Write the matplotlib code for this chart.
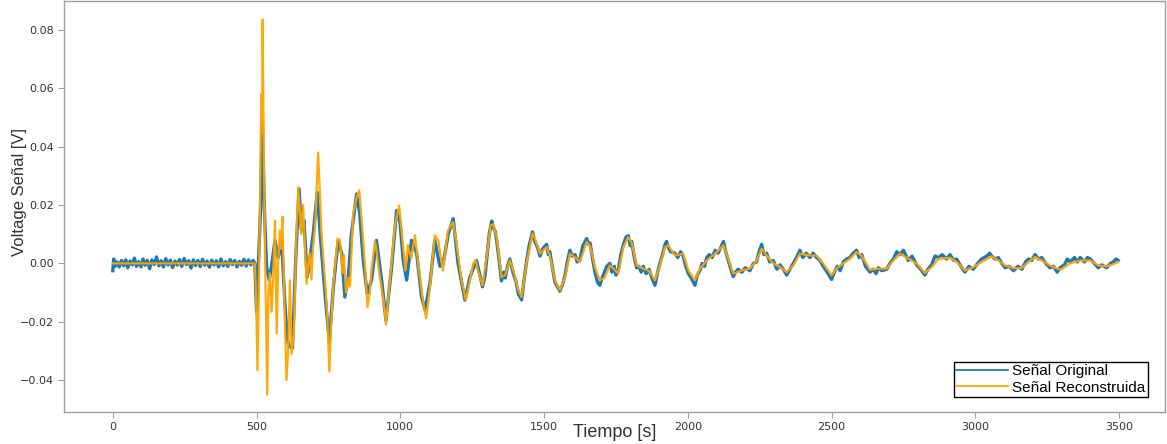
import matplotlib.pyplot as plt
import numpy as np

# señal reconstruida
t_rec = [0, 494, 498, 503, 508, 514, 517, 519, 521, 525,
         530, 537, 541, 546, 552, 558, 564, 570, 575, 581,
         585, 590, 596, 604, 610, 616, 622, 630, 637, 645,
         656, 662, 674, 680, 685, 691, 695, 705, 714, 720,
         726, 741, 747, 753, 760, 767, 782, 790, 799, 804,
         811, 819, 825, 836, 848, 857, 865, 877, 886, 894,
         900, 912, 918, 925, 946, 950, 958, 965, 981, 996,
         1010, 1018, 1026, 1038, 1051, 1062, 1080, 1090, 1101, 1120,
         1132, 1148, 1166, 1183, 1194, 1213, 1228, 1242, 1254, 1262,
         1270, 1286, 1302, 1314, 1323, 1335, 1352, 1365, 1381, 1393,
         1411, 1422, 1439, 1460, 1468, 1486, 1509, 1520, 1538, 1555,
         1573, 1590, 1608, 1625, 1648, 1660, 1677, 1694, 1710, 1729,
         1744, 1758, 1776, 1793, 1805, 1822, 1845, 1865, 1886, 1903,
         1921, 1932, 1955, 1984, 2002, 2025, 2042, 2066, 2095, 2124,
         2141, 2158, 2188, 2216, 2239, 2257, 2274, 2297, 2321, 2344,
         2367, 2390, 2425, 2448, 2471, 2500, 2520, 2541, 2564, 2587,
         2605, 2634, 2663, 2692, 2715, 2738, 2767, 2796, 2825, 2848,
         2872, 2912, 2935, 2964, 2993, 3022, 3057, 3080, 3104, 3133,
         3162, 3185, 3208, 3231, 3260, 3295, 3330, 3365, 3400, 3428,
         3457, 3480, 3497]
v_rec = [0.0, 0.0, -0.010, -0.0366, -0.010, 0.040, 0.058, 0.045, 0.0835, 0.040,
         0.000, -0.045, -0.010, -0.0034, -0.0166, -0.005, 0.0147, -0.024, 0.000, 0.0113,
         0.005, 0.016, -0.010, -0.040, -0.030, -0.0058, -0.031, -0.024, 0.005, 0.026,
         0.010, 0.020, -0.007, 0.000, 0.0034, -0.0055, 0.0035, 0.015, 0.038, 0.025,
         0.010, -0.010, -0.020, -0.037, -0.020, -0.007, 0.0085, 0.008, -0.0034, 0.003,
         -0.010, -0.005, -0.008, 0.017, 0.0225, 0.025, 0.0155, -0.0005, -0.015, -0.010,
         -0.002, 0.0075, 0.004, -0.002, -0.016, -0.021, -0.012, -0.0047, 0.013, 0.0198,
         0.0056, -0.0024, 0.0062, 0.0017, 0.0096, 0.0, -0.0137, -0.0188, -0.010, 0.0096,
         0.0079, -0.0024, 0.0113, 0.0141, 0.0079, -0.0058, -0.0126, -0.0058, 0.0, 0.001,
         -0.0024, -0.0075, 0.0034, 0.013, 0.0134, 0.009, -0.0047, -0.004, 0.001, -0.0024,
         -0.0092, -0.0115, 0.0, 0.0102, 0.0085, 0.0034, 0.0056, 0.0027, -0.0058, -0.0092,
         -0.0047, 0.0033, 0.0020, 0.0005, 0.0073, 0.006, -0.0013, -0.0058, -0.005, -0.0007,
         -0.002, -0.0035, 0.0056, 0.009, 0.007, -0.0007, -0.0018, -0.0025, -0.0058, -0.0007,
         0.0056, 0.0062, 0.0027, 0.0033, -0.0024, -0.0058, -0.0018, 0.001, 0.0033, 0.0062,
         0.0016, -0.0035, -0.0024, -0.0018, 0.001, 0.005, 0.0027, 0.0, -0.0013, -0.003,
         -0.0007, 0.0033, 0.0027, 0.0027, 0.0, -0.0041, -0.0015, 0.0, 0.0016, 0.0039,
         0.0025, -0.0022, -0.0018, -0.0018, 0.001, 0.0033, 0.0016, 0.0, -0.0033, -0.0013,
         0.0016, 0.0019, 0.0005, -0.0024, -0.0013, 0.0005, 0.0024, 0.001, -0.0007, -0.0016,
         -0.0016, 0.0005, 0.0022, 0.001, -0.0007, -0.0022, 0.0, 0.001, 0.001, -0.0007,
         -0.001, -0.0003, 0.0005]

# señal original
t_orig = [0, 3, 8, 15, 22, 30, 38, 45, 52, 60,
          68, 75, 82, 90, 98, 105, 112, 120, 128, 136,
          144, 152, 160, 168, 176, 184, 192, 200, 208, 216,
          224, 232, 240, 248, 256, 264, 272, 280, 288, 296,
          304, 312, 320, 328, 336, 344, 352, 360, 368, 376,
          384, 392, 400, 408, 416, 424, 432, 440, 448, 456,
          464, 472, 480, 488, 494, 500, 514, 520, 527, 535,
          544, 552, 564, 575, 587, 598, 607, 616, 625, 637,
          648, 656, 665, 676, 685, 697, 711, 723, 738, 753,
          767, 784, 796, 807, 819, 830, 848, 859, 871, 885,
          900, 917, 935, 950, 970, 987, 999, 1010, 1022, 1039,
          1057, 1074, 1086, 1103, 1120, 1138, 1149, 1167, 1184, 1201,
          1225, 1242, 1265, 1286, 1295, 1302, 1310, 1318, 1323, 1330,
          1335, 1345, 1352, 1360, 1365, 1373, 1381, 1387, 1393, 1402,
          1411, 1422, 1430, 1439, 1448, 1460, 1468, 1477, 1486, 1495,
          1509, 1515, 1520, 1530, 1538, 1547, 1555, 1565, 1573, 1582,
          1590, 1598, 1608, 1615, 1625, 1635, 1648, 1655, 1660, 1668,
          1677, 1686, 1694, 1702, 1710, 1718, 1729, 1736, 1744, 1750,
          1758, 1767, 1776, 1785, 1793, 1800, 1805, 1814, 1822, 1830,
          1838, 1845, 1855, 1865, 1875, 1886, 1895, 1903, 1912, 1921,
          1926, 1932, 1940, 1955, 1965, 1975, 1984, 1993, 2002, 2012,
          2025, 2033, 2042, 2050, 2058, 2066, 2075, 2085, 2095, 2105,
          2115, 2124, 2132, 2141, 2150, 2158, 2166, 2175, 2188, 2200,
          2216, 2228, 2239, 2248, 2257, 2265, 2274, 2285, 2297, 2310,
          2321, 2332, 2344, 2355, 2367, 2378, 2390, 2400, 2412, 2425,
          2436, 2448, 2460, 2471, 2485, 2500, 2510, 2520, 2530, 2541,
          2552, 2564, 2575, 2587, 2596, 2605, 2618, 2634, 2645, 2655,
          2663, 2675, 2692, 2703, 2715, 2727, 2738, 2750, 2767, 2780,
          2796, 2810, 2825, 2835, 2848, 2860, 2872, 2885, 2900, 2912,
          2925, 2935, 2950, 2964, 2978, 2993, 3008, 3022, 3040, 3050,
          3057, 3070, 3080, 3092, 3104, 3118, 3133, 3148, 3162, 3175,
          3185, 3196, 3208, 3220, 3231, 3245, 3260, 3272, 3285, 3295,
          3310, 3320, 3330, 3345, 3355, 3365, 3380, 3390, 3400, 3414,
          3428, 3440, 3457, 3470, 3480, 3490, 3497]
v_orig = [-0.0025, 0.0015, -0.001, 0.0005, -0.0012, 0.001, -0.0008, 0.0012, -0.0015, 0.0008,
          -0.0005, 0.0018, -0.001, 0.0006, -0.0012, 0.0015, -0.0006, 0.001, -0.0018, 0.0012,
          -0.0004, 0.0022, -0.0008, 0.0009, -0.0012, 0.0016, -0.0005, 0.0011, -0.0014, 0.0008,
          -0.0006, 0.0013, -0.001, 0.0017, -0.0004, 0.0009, -0.0016, 0.0012, -0.0007, 0.001,
          -0.0011, 0.0014, -0.0006, 0.0008, -0.0013, 0.0011, -0.0005, 0.0009, -0.0012, 0.0015,
          -0.0008, 0.0006, -0.001, 0.0013, -0.0004, 0.001, -0.0012, 0.0007, -0.0006, 0.0014,
          -0.0009, 0.0012, -0.0005, 0.001, 0.0, -0.0166, 0.019, 0.0483, 0.019, -0.0013,
          -0.0057, -0.001, 0.0079, 0.002, 0.0079, -0.0126, -0.0263, -0.0286, -0.029, 0.0034,
          0.0255, 0.0113, 0.0147, -0.0047, 0.0011, 0.0101, 0.0244, 0.0079, -0.0104, -0.0269,
          -0.0081, 0.0079, 0.0034, -0.0115, -0.0047, 0.0101, 0.0238, 0.0170, 0.0011, -0.0104,
          -0.0057, 0.0079, -0.0057, -0.0195, -0.0010, 0.0181, 0.0141, 0.0011, -0.0057, 0.0079,
          0.0034, -0.0115, -0.016, -0.0069, 0.0079, -0.001, -0.0001, 0.0101, 0.0153, -0.0001,
          -0.0126, -0.0047, 0.001, -0.0080, -0.004, 0.0030, 0.0105, 0.0145, 0.0125, 0.011,
          0.008, 0.000, -0.006, -0.003, -0.005, -0.001, 0.0015, -0.001, -0.0035, -0.006,
          -0.0105, -0.0125, -0.006, 0.0005, 0.006, 0.0108, 0.0075, 0.0055, 0.0025, 0.005,
          0.0065, 0.003, 0.004, -0.002, -0.0065, -0.008, -0.0095, -0.007, -0.004, 0.001,
          0.0045, 0.0025, 0.003, 0.0005, 0.0015, 0.006, 0.0085, 0.0065, 0.007, 0.002,
          -0.003, -0.0065, -0.0075, -0.005, -0.003, -0.001, 0.000, -0.003, -0.001, -0.004,
          -0.0025, 0.003, 0.0065, 0.009, 0.0095, 0.006, 0.0075, 0.002, -0.0015, -0.001,
          -0.003, -0.0010, -0.0035, -0.002, -0.005, -0.0075, -0.003, 0.000, 0.003, 0.0065,
          0.0075, 0.0055, 0.004, 0.0035, 0.002, 0.004, 0.0025, -0.001, -0.0035, -0.005,
          -0.0075, -0.004, -0.0025, 0.000, -0.001, 0.002, 0.003, 0.002, 0.0045, 0.0035,
          0.0055, 0.0075, 0.004, 0.001, -0.002, -0.0045, -0.003, -0.002, -0.0030, -0.0015,
          -0.0025, 0.000, 0.0005, 0.004, 0.0065, 0.003, 0.0035, 0.0005, 0.0010, -0.002,
          -0.0005, -0.002, -0.004, -0.002, 0.0000, 0.002, 0.0045, 0.002, 0.0035, 0.0020,
          0.0035, 0.0020, 0.001, -0.0010, -0.003, -0.0055, -0.003, -0.001, -0.0025, 0.0005,
          0.0015, 0.002, 0.0035, 0.0045, 0.002, 0.003, -0.001, -0.003, -0.002, -0.0035,
          -0.0015, -0.0025, -0.002, 0.000, 0.0015, 0.004, 0.0030, 0.0045, 0.0010, 0.0025,
          -0.0005, -0.002, -0.004, -0.002, -0.0005, 0.0025, 0.002, 0.003, 0.0015, 0.003,
          0.001, 0.0015, -0.001, -0.003, -0.001, -0.002, 0.000, 0.0015, 0.0025, 0.0035,
          0.0025, 0.0015, 0.0020, 0.000, -0.0015, -0.001, -0.0025, -0.001, -0.0020, 0.0005,
          0.0015, 0.001, 0.003, 0.0015, 0.0020, 0.000, -0.0015, -0.001, -0.003, -0.0015,
          -0.0005, 0.0015, 0.0005, 0.002, 0.0005, 0.0020, 0.0005, 0.002, 0.0015, 0.000,
          -0.0015, -0.0005, -0.0015, 0.0, 0.0005, 0.0015, 0.0010]

assert len(t_rec) == len(v_rec)
assert len(t_orig) == len(v_orig)

fig = plt.figure(figsize=(11.67, 4.44), dpi=100)
ax = fig.add_axes([0.0548, 0.072, 0.9435, 0.926])

ax.plot(t_orig, v_orig, color='#1f77b4', lw=2.4, label='Señal Original')
ax.plot(t_rec, v_rec, color='orange', lw=1.6, alpha=0.95, label='Señal Reconstruida')

ax.set_xlim(-170, 3660)
ax.set_ylim(-0.0509, 0.0899)
ax.set_yticks(np.arange(-0.04, 0.081, 0.02))
ax.set_xticks(np.arange(0, 3501, 500))

for s in ax.spines.values():
    s.set_color('#a0a0a0')
    s.set_linewidth(1.0)
ax.tick_params(colors='#a0a0a0', labelcolor='#333333', labelsize=8, length=4)

ax.set_xlabel('Tiempo [s]', fontsize=13, family='Liberation Sans', color='#333333')
ax.xaxis.set_label_coords(0.5, -0.028)
ax.set_ylabel('Voltage Señal [V]', fontsize=12, family='Liberation Sans', color='#333333')
ax.yaxis.set_label_coords(-0.034, 0.535)

leg = ax.legend(loc='lower right', prop={'family': 'Liberation Sans', 'size': 11},
                fancybox=False, framealpha=1, edgecolor='black', borderpad=0.15,
                labelspacing=0.15, handlelength=3.4, handletextpad=0.3,
                borderaxespad=0, bbox_to_anchor=(0.9845, 0.0365))
leg.get_frame().set_linewidth(1.0)
for line in leg.get_lines():
    line.set_linewidth(1.3)

plt.savefig('out.png', dpi=100)
